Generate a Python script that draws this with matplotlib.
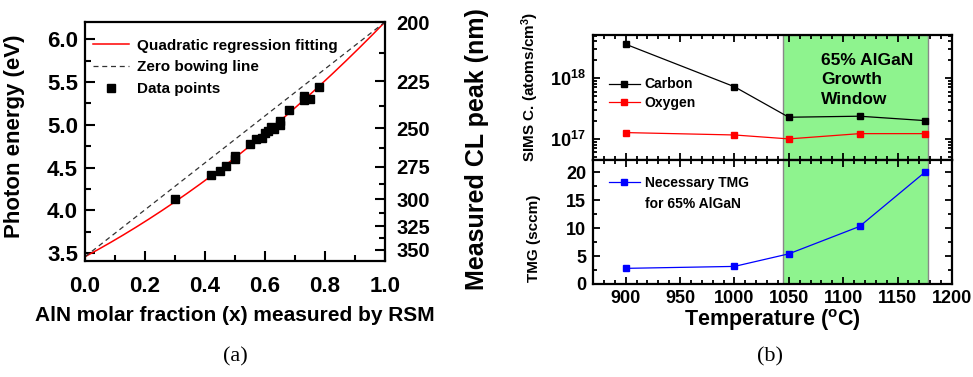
import numpy as np
import matplotlib
matplotlib.use("Agg")
import matplotlib.pyplot as plt
from matplotlib.ticker import MultipleLocator, FixedLocator, LogLocator, FuncFormatter, NullFormatter

plt.rcParams["font.family"] = "Liberation Sans"
plt.rcParams["font.weight"] = "bold"
plt.rcParams["axes.labelweight"] = "bold"
plt.rcParams["mathtext.fontset"] = "custom"
plt.rcParams["mathtext.rm"] = "Liberation Sans:bold"
plt.rcParams["mathtext.bf"] = "Liberation Sans:bold"
plt.rcParams["mathtext.default"] = "bf"

# ===== DATA (a): CL peak vs AlN fraction =====
ALN_X = [0.30, 0.42, 0.45, 0.47, 0.50, 0.50, 0.55, 0.57, 0.59, 0.60, 0.61,
         0.62, 0.63, 0.65, 0.65, 0.68, 0.73, 0.73, 0.75, 0.78]
PHOTON_E = [4.13, 4.41, 4.46, 4.52, 4.60, 4.64, 4.77, 4.84, 4.85, 4.90, 4.93,
            4.98, 4.95, 5.00, 5.05, 5.17, 5.29, 5.34, 5.30, 5.44]
E_GAN = 3.46      # eV, x = 0
E_ALN = 6.20      # eV, x = 1
BOWING = 0.86     # eV, quadratic fit
CL_TICKS_NM = [200, 225, 250, 275, 300, 325, 350]
CL_MINOR_NM = [212.5, 237.5, 262.5, 287.5, 312.5, 337.5]

# ===== DATA (b): SIMS + TMG vs temperature =====
TEMPS = [900, 1000, 1050, 1115, 1175]
CARBON = [3.6e18, 7.2e17, 2.27e17, 2.36e17, 2.0e17]
OXYGEN = [1.27e17, 1.16e17, 1.0e17, 1.22e17, 1.22e17]
TMG = [2.8, 3.15, 5.4, 10.3, 20.0]
WINDOW = (1045, 1178)

W, H = 973, 377
GREEN = "#8EF38E"


def px_axes(left, top, right, bottom):
    return [left / W, 1 - bottom / H, (right - left) / W, (bottom - top) / H]


fig = plt.figure(figsize=(W / 100, H / 100), dpi=100)

# ----- panel (a) -----
ax = fig.add_axes(px_axes(85, 22, 385, 261))
xs = np.linspace(0, 1, 400)
fit = E_GAN * (1 - xs) + E_ALN * xs - BOWING * xs * (1 - xs)
ax.plot(xs, fit, color="red", lw=1.1, label="Quadratic regression fitting")
ax.plot([0, 1], [E_GAN, E_ALN], color="#333333", lw=0.9, ls=(0, (4, 3)),
        label="Zero bowing line")
ax.plot(ALN_X, PHOTON_E, "s", color="black", ms=5.8, ls="none", label="Data points")

ax.set_xlim(0, 1)
ax.set_ylim(3.41, 6.2)
ax.xaxis.set_major_locator(MultipleLocator(0.2))
ax.xaxis.set_minor_locator(MultipleLocator(0.1))
ax.yaxis.set_major_locator(MultipleLocator(0.5))
ax.yaxis.set_minor_locator(MultipleLocator(0.25))
ax.xaxis.set_major_formatter(FuncFormatter(lambda v, p: f"{v:.1f}"))
ax.yaxis.set_major_formatter(FuncFormatter(lambda v, p: f"{v:.1f}"))
ax.tick_params(which="both", direction="in", top=False, right=False, width=1.5)
ax.tick_params(which="major", length=7, labelsize=16)
ax.tick_params(which="minor", length=4)
ax.tick_params(axis="x", pad=11)
ax.tick_params(axis="y", pad=5)
for s in ax.spines.values():
    s.set_linewidth(1.6)
ax.set_xlabel("AlN molar fraction (x) measured by RSM", fontsize=15)
ax.xaxis.set_label_coords(0.5, -0.19)
ax.set_ylabel("Photon energy (eV)", fontsize=16)
ax.yaxis.set_label_coords(-0.20, 0.52)
ax.legend(loc="upper left", bbox_to_anchor=(0.025, 0.93), frameon=False,
          fontsize=11, handlelength=2.4, handletextpad=0.5, labelspacing=0.5,
          borderaxespad=0, borderpad=0)

ax2 = ax.twinx()
ax2.set_ylim(ax.get_ylim())
ax2.yaxis.set_major_locator(FixedLocator([1240 / nm for nm in CL_TICKS_NM]))
ax2.yaxis.set_minor_locator(FixedLocator([1240 / nm for nm in CL_MINOR_NM]))
ax2.set_yticklabels([str(nm) for nm in CL_TICKS_NM])
ax2.tick_params(which="both", direction="in", width=1.5)
ax2.tick_params(which="major", length=7, labelsize=14.5, pad=8)
ax2.tick_params(which="minor", length=4)
ax2.set_ylabel("Measured CL peak (nm)", fontsize=18)
ax2.yaxis.set_label_coords(1.267, 0.47)
for s in ax2.spines.values():
    s.set_visible(False)

fig.text(235 / W, 1 - 357 / H, "(a)", family="Liberation Serif", fontweight="normal",
         fontsize=16, ha="center", va="center")

# ----- panel (b) top: SIMS -----
axt = fig.add_axes(px_axes(593, 35, 952, 160))
axb = fig.add_axes(px_axes(593, 160, 952, 284), sharex=axt)

for a in (axt, axb):
    a.axvspan(*WINDOW, facecolor=GREEN, edgecolor="#888888", lw=1.0, zorder=0)
    a.set_xlim(870, 1200)
    a.xaxis.set_major_locator(MultipleLocator(50))
    a.xaxis.set_minor_locator(MultipleLocator(10))
    a.tick_params(which="both", direction="in", top=True, right=True, width=1.3)
    a.tick_params(which="major", length=5, labelsize=13)
    a.tick_params(which="minor", length=3)
    for s in a.spines.values():
        s.set_linewidth(1.6)

axt.plot(TEMPS, CARBON, "-s", color="black", lw=0.9, ms=5, label="Carbon")
axt.plot(TEMPS, OXYGEN, "-s", color="red", lw=0.9, ms=5, label="Oxygen")
axt.set_yscale("log")
axt.set_ylim(4.5e16, 5.1e18)
axt.yaxis.set_major_locator(LogLocator(base=10, numticks=10))
axt.yaxis.set_minor_locator(LogLocator(base=10, subs=np.arange(2, 10), numticks=10))
axt.yaxis.set_major_formatter(FuncFormatter(lambda v, p: r"$10^{%d}$" % round(np.log10(v))))
axt.yaxis.set_minor_formatter(NullFormatter())
axt.tick_params(axis="x", labelbottom=False)
axt.tick_params(axis="y", pad=5)
axt.set_ylabel("SIMS C. (atoms/cm$^{3}$)", fontsize=11)
axt.yaxis.set_label_coords(-0.145, 0.584)
axt.legend(loc="upper left", bbox_to_anchor=(0.045, 0.66), frameon=False,
           fontsize=10, handlelength=2.2, handletextpad=0.35, labelspacing=0.3,
           borderaxespad=0, borderpad=0)
axt.text(0.635, 0.64, "65% AlGaN\nGrowth\nWindow", transform=axt.transAxes,
         fontsize=12.5, ha="left", va="center", linespacing=1.38)

# ----- panel (b) bottom: TMG -----
axb.plot(TEMPS, TMG, "-s", color="blue", lw=0.9, ms=5, label="Necessary TMG")
axb.set_ylim(0, 22.2)
axb.yaxis.set_major_locator(MultipleLocator(5))
axb.yaxis.set_minor_locator(MultipleLocator(2.5))
axb.tick_params(axis="x", pad=4)
axb.tick_params(axis="y", pad=5)
axb.set_ylabel("TMG (sccm)", fontsize=11)
axb.yaxis.set_label_coords(-0.145, 0.371)
axb.set_xlabel("Temperature ($^{o}$C)", fontsize=15.5)
axb.xaxis.set_label_coords(0.5, -0.19)
axb.legend(loc="upper left", bbox_to_anchor=(0.045, 0.87), frameon=False,
           fontsize=10, handlelength=2.2, handletextpad=0.35,
           borderaxespad=0, borderpad=0)
fig.text(645 / W, 1 - 204 / H, "for 65% AlGaN", fontsize=10, va="center")

fig.text(770 / W, 1 - 357 / H, "(b)", family="Liberation Serif", fontweight="normal",
         fontsize=16, ha="center", va="center")

fig.savefig("out.png", dpi=100)
